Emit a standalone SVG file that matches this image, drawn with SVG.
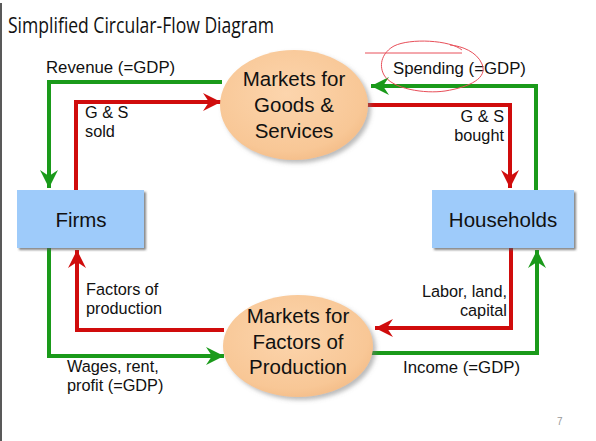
<svg xmlns="http://www.w3.org/2000/svg" width="596" height="441" viewBox="0 0 596 441">
<defs>
<style>
.lbl{font-family:"Liberation Sans",Arial,sans-serif;font-size:16.8px;fill:#111}
.ml{font-size:16.3px}
.node{font-family:"Liberation Sans",Arial,sans-serif;font-size:20.5px;fill:#111;text-anchor:middle}
.box{fill:#9ecbfa;filter:url(#sh)}
.ell{fill:url(#peach);filter:url(#sh2)}
.g{fill:none;stroke:#1a9a1a;stroke-width:4;marker-end:url(#ag)}
.r{fill:none;stroke:#d00c0c;stroke-width:4;marker-end:url(#ar)}
</style>
<radialGradient id="peach" cx="0.45" cy="0.4" r="0.65">
<stop offset="0" stop-color="#fcd5ad"/>
<stop offset="0.8" stop-color="#f8c796"/>
<stop offset="1" stop-color="#f3bb86"/>
</radialGradient>
<filter id="sh" x="-10%" y="-10%" width="130%" height="140%">
<feDropShadow dx="2" dy="2" stdDeviation="1" flood-color="#555" flood-opacity="0.7"/>
</filter>
<filter id="sh2" x="-10%" y="-10%" width="130%" height="130%">
<feDropShadow dx="3" dy="3" stdDeviation="2" flood-color="#777" flood-opacity="0.5"/>
</filter>
<marker id="ag" markerUnits="userSpaceOnUse" markerWidth="22" markerHeight="22" viewBox="-18 -11 20 22" refX="0" refY="0" orient="auto">
<path d="M0,0 L-18,-9 L-12,0 L-18,9 Z" fill="#1a9a1a"/>
</marker>
<marker id="ar" markerUnits="userSpaceOnUse" markerWidth="22" markerHeight="22" viewBox="-18 -11 20 22" refX="0" refY="0" orient="auto">
<path d="M0,0 L-18,-9 L-12,0 L-18,9 Z" fill="#d00c0c"/>
</marker>
</defs>
<rect width="596" height="441" fill="#fff"/>
<line x1="1" y1="3" x2="1" y2="441" stroke="#222" stroke-width="1.5"/>
<text x="8" y="33" font-family="'Open Sans','Noto Sans',sans-serif" font-size="21" fill="#111" textLength="266" lengthAdjust="spacingAndGlyphs">Simplified Circular-Flow Diagram</text>

<g id="connectors">
<path class="g" d="M222,82 H49 V188"/>
<path class="r" d="M76,190 V102 H221"/>
<path class="g" d="M536,190 V86 H371"/>
<path class="r" d="M366,105 H510 V188"/>
<path class="r" d="M224,330 H77 V250"/>
<path class="g" d="M49,248 V356 H224"/>
<path class="r" d="M511,248 V328 H375"/>
<path class="g" d="M371,353 H537 V250"/>
</g>

<g id="goods-market">
<ellipse class="ell" cx="294" cy="105" rx="74" ry="55"/>
<text class="node" x="294" y="86">Markets for</text>
<text class="node" x="294" y="112">Goods &amp;</text>
<text class="node" x="294" y="138">Services</text>
</g>
<g id="factor-market">
<ellipse class="ell" cx="298" cy="346" rx="75" ry="51"/>
<text class="node" x="298" y="323">Markets for</text>
<text class="node" x="298" y="349">Factors of</text>
<text class="node" x="298" y="374">Production</text>
</g>
<g id="firms">
<rect class="box" x="17" y="190" width="127" height="58"/>
<text class="node" x="81" y="227" font-size="22.5">Firms</text>
</g>
<g id="households">
<rect class="box" x="432" y="190" width="142" height="58"/>
<text class="node" x="503" y="227" font-size="22.5">Households</text>
</g>

<g id="labels">
<text class="lbl" x="46" y="73">Revenue (=GDP)</text>
<text class="lbl" x="393" y="74">Spending (=GDP)</text>
<text class="lbl ml" x="85" y="118">G &amp; S</text>
<text class="lbl ml" x="85" y="136.8">sold</text>
<text class="lbl ml" x="504" y="122" text-anchor="end">G &amp; S</text>
<text class="lbl ml" x="504" y="140.8" text-anchor="end">bought</text>
<text class="lbl ml" x="86" y="295">Factors of</text>
<text class="lbl ml" x="86" y="313.8">production</text>
<text class="lbl ml" x="67" y="372">Wages, rent,</text>
<text class="lbl ml" x="67" y="390.8">profit (=GDP)</text>
<text class="lbl ml" x="507" y="297" text-anchor="end">Labor, land,</text>
<text class="lbl ml" x="507" y="315.8" text-anchor="end">capital</text>
<text class="lbl" x="403" y="373">Income (=GDP)</text>
</g>
<text x="557" y="425" font-family="'Liberation Sans',Arial,sans-serif" font-size="10" fill="#999">7</text>

<g id="annotation" fill="none" stroke="#e8505a" stroke-width="1">
<line x1="365" y1="53" x2="462" y2="53"/>
<path d="M462,50 C450,40 410,38 394,46 C383,52 378,64 384,75 C392,89 425,94 445,91 C470,87 488,78 482,64 C477,52 462,46 450,45"/>
</g>
</svg>
